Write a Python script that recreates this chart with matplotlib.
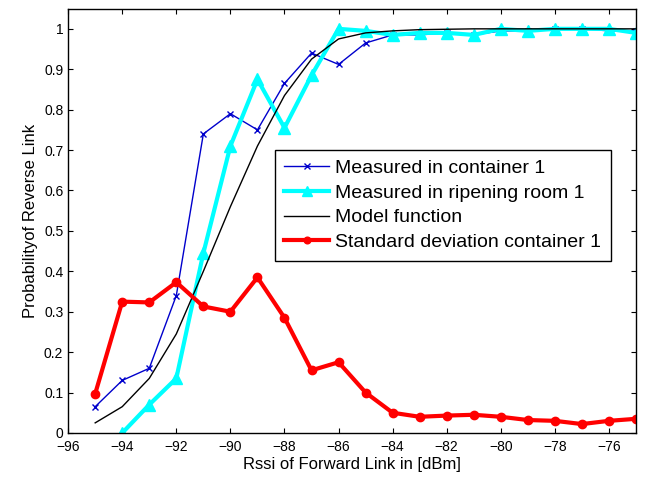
import numpy as np
import matplotlib
matplotlib.use('Agg')
from matplotlib import pyplot as plt

plt.rcParams['font.family'] = ['Liberation Sans', 'DejaVu Sans']

# rssi of forward link
rssi = [-95, -94, -93, -92, -91, -90, -89, -88, -87, -86, -85,
        -84, -83, -82, -81, -80, -79, -78, -77, -76, -75]

container = [0.065, 0.13, 0.16, 0.34, 0.74, 0.79, 0.75, 0.865, 0.94, 0.912, 0.965,
             0.985, 0.985, 0.99, 0.985, 0.995, 0.995, 1.0, 1.0, 0.995, 0.995]

rssi_room = rssi[1:]
room = [0.0, 0.07, 0.135, 0.445, 0.71, 0.875, 0.755, 0.885, 1.0, 0.995,
        0.985, 0.99, 0.99, 0.985, 1.0, 0.995, 1.0, 1.0, 1.0, 0.99]

model = [0.025, 0.065, 0.135, 0.245, 0.40, 0.56, 0.71, 0.835, 0.925, 0.975, 0.99,
         0.995, 0.998, 0.999, 1.0, 1.0, 1.0, 1.0, 1.0, 1.0, 1.0]

std_dev = [0.097, 0.325, 0.323, 0.373, 0.313, 0.30, 0.385, 0.285, 0.155, 0.175, 0.10,
           0.05, 0.04, 0.043, 0.045, 0.04, 0.032, 0.03, 0.022, 0.03, 0.035]

fig = plt.figure(figsize=(6.49, 4.8), dpi=100)
ax = fig.add_axes([0.105, 0.098, 0.875, 0.884])

ax.plot(rssi, container, color='#0000cc', lw=1, marker='x', ms=5, mew=1,
        label='Measured in container 1')
ax.plot(rssi_room, room, color='cyan', lw=3, marker='^', ms=9,
        label='Measured in ripening room 1')
ax.plot(rssi, model, color='black', lw=1, label='Model function')
ax.plot(rssi, std_dev, color='red', lw=3, marker='o', ms=6,
        label='Standard deviation container 1')

ax.set_xlim(-96, -75)
ax.set_ylim(0, 1.05)
ax.set_xticks(np.arange(-96, -75, 2))
ax.set_yticks(np.arange(0, 1.01, 0.1))
ax.set_yticklabels(['0', '0.1', '0.2', '0.3', '0.4', '0.5', '0.6', '0.7', '0.8', '0.9', '1'])
ax.set_xticklabels([str(t).replace('-', '\u2212') for t in range(-96, -75, 2)])
ax.tick_params(direction='in', top=True, right=True, labelsize=10)
ax.tick_params(axis='x', pad=5)
for s in ax.spines.values():
    s.set_linewidth(1)

ax.set_xlabel('Rssi of Forward Link in [dBm]', fontsize=12, labelpad=2)
ax.set_ylabel('Probabilityof Reverse Link', fontsize=12)

leg = ax.legend(loc='upper left', bbox_to_anchor=(0.3635, 0.667), fontsize=14,
                fancybox=False, edgecolor='black', framealpha=1, handlelength=2.3,
                handletextpad=0.3, borderaxespad=0, labelspacing=0.36,
                borderpad=0.5, markerscale=0.8)
leg.get_frame().set_linewidth(1)

plt.savefig('out.png', dpi=100)
